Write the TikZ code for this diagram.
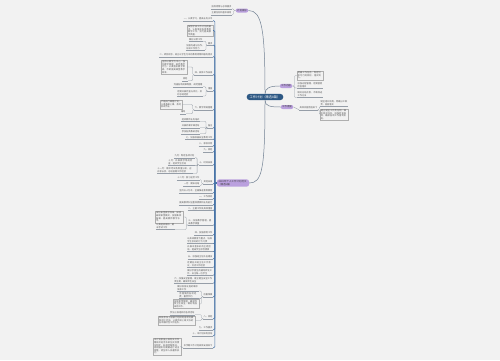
\documentclass[tikz,border=0pt]{standalone}
\usepackage{fontspec}
\newfontfamily\cjk{Noto Sans CJK SC}
\XeTeXlinebreaklocale "zh"
\XeTeXlinebreakskip = 0pt plus 0.5pt
\usetikzlibrary{calc}

\definecolor{bgc}{RGB}{242,242,242}
\definecolor{rootc}{RGB}{45,88,132}
\definecolor{subc}{RGB}{186,160,222}
\definecolor{curvec}{RGB}{112,128,146}
\definecolor{spinec}{RGB}{72,116,168}
\definecolor{linkc}{RGB}{150,158,168}
\definecolor{txtc}{RGB}{85,85,85}
\definecolor{boxc}{RGB}{175,175,175}

\tikzset{
  root/.style={fill=rootc, rounded corners=3pt, text=white, inner xsep=3pt, inner ysep=1.6pt,
    font=\cjk\fontsize{3.2}{4}\selectfont},
  sub/.style={fill=subc, rounded corners=2pt, text=black!75, inner xsep=1.5pt, inner ysep=0.9pt,
    font=\cjk\fontsize{2.4}{3}\selectfont},
  leaf/.style={font=\cjk\fontsize{2.2}{2.7}\selectfont, text=txtc, inner xsep=0.4pt, inner ysep=0.5pt,
    anchor=east, append after command={(\tikzlastnode.south west) edge[uline] (\tikzlastnode.south east)}},
  rleaf/.style={leaf, anchor=west},
  block/.style={font=\cjk\fontsize{2.2}{2.6}\selectfont, text=txtc, anchor=east, align=left,
    text width=#1, draw=boxc, line width=0.2pt, inner sep=0.8pt},
  rblock/.style={block=#1, anchor=west},
  uline/.style={draw=linkc, line width=0.25pt},
  curve/.style={draw=curvec, line width=0.5pt},
  spine/.style={draw=spinec, line width=0.6pt, rounded corners=1pt},
  link/.style={draw=linkc, line width=0.3pt, rounded corners=1pt}
}

\begin{document}
\begin{tikzpicture}[x=1pt, y=-1pt]
  \fill[bgc] (0,0) rectangle (500,360);
  \useasboundingbox (0,0) rectangle (500,360);

  % main topics
  \node[root] (root) at (265,97) {工作计划（精选8篇）};
  \node[sub] (tp) at (242,10.5) {计划目标};
  \node[sub] (rp1) at (286,86) {工作内容};
  \node[sub] (rp2) at (287,107) {工作措施};
  \node[sub, text width=29pt, align=left] (bp) at (233,183) {20XX年个人工作计划范文（精选8篇）};

  \draw[curve] (root.north) .. controls (265,30) and (262,10.5) .. (tp.east);
  \draw[curve] (root.south) .. controls (265,170) and (262,183) .. (bp.east);
  \draw[curve] (root.north) .. controls (265,88) and (270,86) .. (rp1.west);
  \draw[curve] (root.south) .. controls (265,106) and (270,107) .. (rp2.west);

  % top branch
  \node[leaf] (t1) at (232,7) {指导思想与总体要求};
  \node[leaf] (t2) at (232,13) {主要任务和基本原则};
  \foreach \c in {t1, t2}
    \draw[link] (tp.west) -- ++(-2,0) |- (\c.south east);

  % right branches
  \node[rblock=24pt] (r1) at (297,75.5) {明确工作任务，制定切实可行的目标，落实到人。};
  \node[rleaf, text width=25pt, align=left] (r2) at (297,85) {加强过程管理，定期督促检查落实};
  \node[rleaf, text width=25pt, align=left] (r3) at (297,94.5) {做好总结反思，不断改进工作方法};
  \foreach \c in {r1.west, r2.south west, r3.south west}
    \draw[link] (rp1.east) -- ++(2,0) |- (\c);

  \node[rleaf] (r4) at (299,108) {具体实施措施如下};
  \node[rleaf, text width=27pt, align=left] (r4a) at (320,103.5) {健全组织机构，明确分工职责，层层落实};
  \node[rblock=26pt] (r4b) at (320,114.5) {建立健全工作责任制，细化目标任务，加强检查指导，确保各项工作落到实处。};
  \draw[link] (rp2.east) -- (r4.south west);
  \foreach \c in {r4a.south west, r4b.west}
    \draw[link] (r4.south east) -- ++(1.5,0) |- (\c);

  % left branch
  \node[leaf] (L1) at (213,19) {一、认真学习，提高业务水平};
  \node[block=24pt] (L2) at (213,30.5) {按照学校工作计划的要求，认真落实各项教育教学工作，努力提高教学质量。};
  \node[leaf] (L3) at (213,43.5) {要求};
  \node[leaf] (c3a) at (203,39.5) {做好日常工作};
  \node[leaf, text width=18pt, align=left] (c3b) at (205,47) {加强沟通与协作，形成工作合力};
  \node[leaf] (L4) at (213,55) {二、转变观念，树立以学生为本的教育思想和服务意识};
  \node[leaf] (L5) at (213,73) {四、具体工作安排};
  \node[block=24pt] (c5a) at (187,67) {坚持以教学为中心，强化教学管理，规范教学行为，认真落实教学常规，不断提高课堂教学效率。};
  \node[leaf] (c5b) at (188,79) {其他};
  \node[leaf] (L6) at (213,89) {措施};
  \node[leaf] (c6a) at (203,85) {完善各项规章制度，规范管理};
  \node[leaf, text width=25pt, align=left] (c6b) at (203,93) {定期开展检查与评比，及时总结经验};
  \node[leaf] (L7) at (213,108) {六、教学常规管理};
  \node[block=20pt] (c7a) at (182,104.5) {严格执行课程计划，认真备课上课，及时批改作业};
  \node[leaf] (c7b) at (186,112) {辅导};
  \node[leaf] (L8) at (213,126) {备注};
  \node[leaf] (c8a) at (200,119.5) {组织教师业务培训};
  \node[leaf] (c8b) at (200,126) {开展听课评课活动};
  \node[leaf] (c8c) at (200,132) {参加各类教研活动};
  \node[leaf] (L9) at (213,137.5) {七、加强校园安全教育工作};
  \node[leaf] (L10) at (213,144) {八、家校共育};
  \node[leaf] (L11) at (213,150) {九、其他};
  \node[leaf] (L12) at (213,163) {十、时间安排};
  \node[leaf] (c12a) at (195,156) {九月：制定各项计划};
  \node[leaf, text width=26pt, align=left] (c12b) at (195,162.5) {十月：开展教学常规检查，组织学生活动};
  \node[leaf, text width=35pt, align=left] (c12c) at (193,170.5) {十一月：期中考试及质量分析，召开家长会，总结前期工作经验};
  \node[leaf] (L13) at (213,182) {其他安排};
  \node[leaf] (c13a) at (200,178) {十二月：复习迎考工作};
  \node[leaf] (c13b) at (200,184) {一月：期末总结};
  \node[leaf] (L14) at (213,191) {坚持以人为本，全面推进素质教育};
  \node[leaf] (L15) at (213,197) {一、工作目标};
  \node[leaf] (L16) at (213,203) {提高教师队伍整体素质和业务能力};
  \node[leaf] (L17) at (213,208.5) {二、主要工作及具体措施};
  \node[leaf, text width=24pt, align=left] (L18) at (213,222) {三、加强教学管理，提高教学质量};
  \node[block=26pt] (c18a) at (183,217) {深化课堂教学改革，探索高效课堂模式，加强集体备课，提高教师教学水平。};
  \node[leaf, text width=18pt, align=left] (c18b) at (175,226.5) {认真组织期中、期末考试工作};
  \node[leaf] (L19) at (213,233) {四、加强德育工作};
  \node[leaf, text width=25pt, align=left] (L20) at (213,240.5) {以养成教育为重点，培养学生良好的行为习惯};
  \node[leaf, text width=25pt, align=left] (L21) at (213,248.5) {开展丰富多彩的主题活动，提高学生综合素质};
  \node[leaf] (L22) at (213,257) {五、加强班主任队伍建设};
  \node[leaf, text width=25pt, align=left] (L23) at (213,264) {定期召开班主任工作会议，交流工作经验};
  \node[leaf, text width=25pt, align=left] (L24) at (213,272) {做好学困生的辅导转化工作，关注每一位学生};
  \node[leaf, text width=38pt, align=left] (L25) at (213,280) {六、加强安全管理，建立健全安全工作责任制，确保师生安全};
  \node[leaf] (L26) at (213,295) {后勤保障};
  \node[leaf, text width=21pt, align=left] (c26a) at (199,288) {做好校舍设施的维修保养工作};
  \node[leaf, text width=19pt, align=left] (c26b) at (199,295.5) {合理使用各项经费，勤俭节约};
  \node[block=24pt] (c26c) at (199,304) {加强食堂管理，确保饮食卫生安全，做好物品采购工作。};
  \node[leaf] (L27) at (213,317) {八、其他};
  \node[leaf] (c27a) at (195,313) {参加上级组织的各项活动};
  \node[block=35pt] (c27b) at (195,320.5) {积极参加上级部门组织的各项比赛和评比活动，认真完成上级交办的各项临时性工作任务。};
  \node[leaf] (L28) at (213,328) {九、工作要求};
  \node[leaf] (L29) at (213,334) {十、本计划如有变动};
  \node[leaf] (L30) at (213,346) {本学期工作计划具体安排如下};
  \node[block=26pt] (c30) at (181,346.5) {本计划根据上级有关文件精神并结合本单位实际情况制定，如遇特殊情况，将根据实际需要进行适当调整，请全体人员遵照执行。};

  \foreach \c in {L1.south east, L2.east, L3.south east, L4.south east, L5.south east,
      L6.south east, L7.south east, L8.south east, L9.south east, L10.south east,
      L11.south east, L12.south east, L13.south east, L14.south east, L15.south east,
      L16.south east, L17.south east, L18.south east, L19.south east, L20.south east,
      L21.south east, L22.south east, L23.south east, L24.south east, L25.south east,
      L26.south east, L27.south east, L28.south east, L29.south east, L30.south east}
    \draw[spine] (bp.west) -- ++(-2,0) |- (\c);

  \foreach \p/\c in {L3/c3a.south east, L3/c3b.south east, L5/c5a.east, L5/c5b.south east,
      L6/c6a.south east, L6/c6b.south east, L7/c7a.east, L7/c7b.south east,
      L8/c8a.south east, L8/c8b.south east, L8/c8c.south east,
      L12/c12a.south east, L12/c12b.south east, L12/c12c.south east,
      L13/c13a.south east, L13/c13b.south east, L18/c18a.east, L18/c18b.south east,
      L26/c26a.south east, L26/c26b.south east, L26/c26c.east,
      L27/c27a.south east, L27/c27b.east, L30/c30.east}
    \draw[link] (\p.south west) -- ++(-1.5,0) |- (\c);
\end{tikzpicture}
\end{document}
